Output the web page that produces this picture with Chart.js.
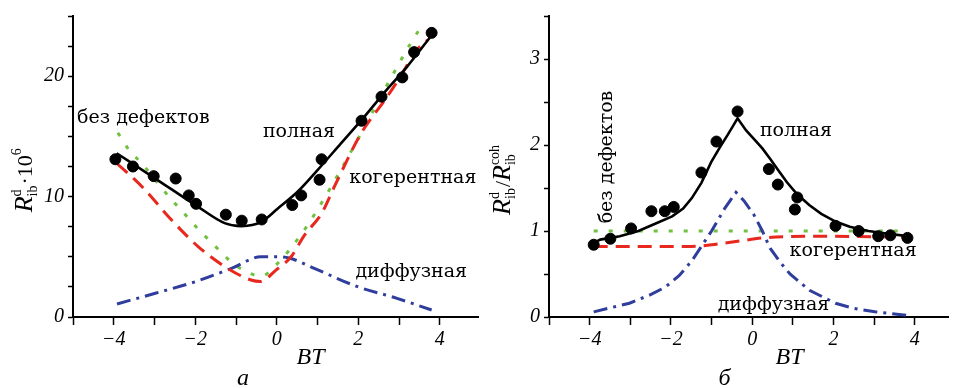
<!DOCTYPE html>
<html lang="ru">
<head>
<meta charset="UTF-8">
<title>R_ib(BT)</title>
<script src="https://cdn.jsdelivr.net/npm/chart.js"></script>
<style>
  body {margin:0; padding:0; background:#fff;}
  #wrap {position:relative; width:955px; height:388px;}
  #leftBox {position:absolute; left:0; top:0;}
  #rightBox {position:absolute; left:485px; top:0;}
</style>
</head>
<body>
<div id="wrap">
  <div id="leftBox"><canvas id="chartA" width="485" height="388"></canvas></div>
  <div id="rightBox"><canvas id="chartB" width="470" height="388"></canvas></div>
</div>
<script>
// ---- panel а : R_ib^d * 1e6 ----
var aDotsX = [-3.96,-3.53,-3.02,-2.48,-2.16,-1.98,-1.25,-0.86,-0.37,0.38,0.60,1.05,1.10,2.08,2.57,3.08,3.37,3.80];
var aDotsY = [13.1,12.5,11.7,11.5,10.1,9.4,8.5,8.0,8.1,9.3,10.1,11.4,13.1,16.3,18.3,19.9,22.0,23.6];
var aFullX = [-3.93,-2.98,-1.93,-1.28,-0.87,-0.38,0.02,0.51,1.0,1.57,2.14,2.63,3.2,3.8];
var aFullY = [13.6,11.5,9.15,7.8,7.55,7.9,9.0,10.4,12.2,14.4,16.6,18.6,20.8,23.4];
var aPureX = [-3.9,-3.63,-3.27,-2.94,-2.62,-2.27,-1.93,-1.54,-1.15,-0.75,-0.38,0.02,0.67,1.33,1.98,2.63,3.28,3.56];
var aPureY = [15.3,13.9,12.6,11.2,9.9,8.6,7.3,5.98,4.67,3.76,3.4,4.45,7.2,10.8,14.7,18.8,22.7,24.2];
var aCohX = [-3.92,-3.3,-2.58,-1.93,-1.28,-0.63,-0.4,-0.02,0.35,0.68,1.1,1.41,2.06,2.71,3.03,3.44,3.7];
var aCohY = [12.75,10.8,8.05,5.85,4.2,3.07,2.95,3.9,5.0,6.8,8.6,10.8,15.2,18.3,19.95,22.2,23.0];
var aDiffX = [-3.92,-2.98,-2.0,-1.11,-0.39,-0.06,0.3,0.92,1.98,2.95,3.8];
var aDiffY = [1.08,1.97,2.93,4.04,5.0,5.0,4.9,4.04,2.52,1.55,0.58];

// ---- panel б : R_ib^d / R_ib^coh ----
var bDotsX = [-3.9,-3.49,-2.98,-2.48,-2.15,-1.93,-1.25,-0.88,-0.36,0.41,0.63,1.11,1.05,2.05,2.62,3.1,3.4,3.82];
var bDotsY = [0.84,0.91,1.03,1.23,1.23,1.28,1.68,2.04,2.39,1.72,1.54,1.39,1.25,1.06,1.0,0.94,0.95,0.92];
var bFullX = [-3.9,-3.74,-3.26,-2.8,-2.46,-1.97,-1.7,-1.49,-1.25,-1.01,-0.8,-0.6,-0.36,-0.15,0.04,0.25,0.44,0.65,0.85,1.1,1.41,1.7,2.05,2.4,2.86,3.3,3.82];
var bFullY = [0.86,0.90,0.94,1.0,1.07,1.17,1.26,1.38,1.56,1.80,1.97,2.12,2.31,2.17,2.07,1.96,1.84,1.70,1.57,1.43,1.30,1.2,1.11,1.05,1.0,0.97,0.94];
var bPureX = [-3.9,3.62];
var bPureY = [1.0,1.0];
var bCohX = [-3.9,-1.5,-1.0,-0.36,0.28,1.4,3.8];
var bCohY = [0.82,0.82,0.84,0.88,0.92,0.94,0.93];
var bDiffX = [-3.9,-3.02,-2.5,-2.13,-1.8,-1.49,-1.25,-1.0,-0.68,-0.40,-0.2,0.04,0.25,0.44,0.7,0.93,1.41,2.05,2.5,3.02,3.82];
var bDiffY = [0.06,0.16,0.26,0.35,0.48,0.65,0.82,1.0,1.26,1.45,1.35,1.19,1.0,0.80,0.63,0.50,0.31,0.16,0.1,0.06,0.02];

var xTickVals = [-5,-4,-3,-2,-1,0,1,2,3,4];

var serif = "'Liberation Serif', serif";
var labelFont = "19px 'DejaVu Serif', serif";

function pts(xs, ys) {
    return xs.map(function(x, i) { return {x: x, y: ys[i]}; });
}

function fmt(v) {
    return v < 0 ? '\u2212' + (-v) : String(v);
}

function curveSets(d) {
    var mode = d.sharp ? 'default' : 'monotone';
    var tension = d.sharp ? 0 : 0;
    return [
        { data: pts(d.dotsX, d.dotsY), showLine: false, pointRadius: 5.5, pointBackgroundColor: '#000', pointBorderColor: '#000' },
        { data: pts(d.fullX, d.fullY), showLine: true, borderColor: '#000', borderWidth: 2.6, pointRadius: 0, cubicInterpolationMode: mode, tension: tension },
        { data: pts(d.cohX, d.cohY), showLine: true, borderColor: '#e8281e', borderWidth: 3, borderDash: [14, 8], pointRadius: 0, cubicInterpolationMode: 'monotone' },
        { data: pts(d.diffX, d.diffY), showLine: true, borderColor: '#2f3d9c', borderWidth: 3, borderDash: [14, 6, 3, 6], pointRadius: 0, cubicInterpolationMode: mode, tension: tension },
        { data: pts(d.pureX, d.pureY), showLine: true, borderColor: '#72c040', borderWidth: 3, borderDash: [4, 11], pointRadius: 0, cubicInterpolationMode: 'monotone' }
    ];
}

function makeScales(o) {
    return {
        x: {
            type: 'linear', min: -5, max: o.xMax,
            ticks: {
                stepSize: 1, autoSkip: false, maxRotation: 0, padding: 3, color: '#000',
                font: {family: serif, size: 20, style: 'italic'},
                callback: function(v) { return v % 2 === 0 ? fmt(v) : ''; }
            },
            afterBuildTicks: function(s) { s.ticks = xTickVals.map(function(v) { return {value: v}; }); },
            afterFit: function(s) { s.height = o.xHeight; },
            grid: { drawOnChartArea: false, drawTicks: true, tickLength: 8, tickColor: '#000', tickWidth: 1.5 },
            border: { color: '#000', width: 2 }
        },
        y: {
            type: 'linear', min: 0, max: o.yMax,
            ticks: {
                stepSize: o.yStep, autoSkip: false, padding: 4, color: '#000',
                font: {family: serif, size: 20, style: 'italic'},
                callback: function(v) { return Math.abs(v % o.yMajor) < 1e-9 ? fmt(v) : ''; }
            },
            afterFit: function(s) { s.width = o.yWidth; },
            grid: { drawOnChartArea: false, drawTicks: true, tickLength: 5, tickColor: '#000', tickWidth: 1.5 },
            border: { color: '#000', width: 2 }
        }
    };
}

// draws R with stacked sub/superscripts along the current (rotated) baseline
function drawRich(ctx, parts) {
    var widths = parts.map(function(p) {
        ctx.font = p.f;
        if (p.t) return ctx.measureText(p.t).width;
        return Math.max(p.sub ? ctx.measureText(p.sub).width : 0, p.sup ? ctx.measureText(p.sup).width : 0) + 1;
    });
    var total = widths.reduce(function(a, b) { return a + b; }, 0);
    var x = -total / 2, base = 7;
    ctx.textAlign = 'left';
    ctx.textBaseline = 'alphabetic';
    parts.forEach(function(p, i) {
        ctx.font = p.f;
        if (p.t) ctx.fillText(p.t, x, base);
        if (p.sub) ctx.fillText(p.sub, x, base + 5);
        if (p.sup) ctx.fillText(p.sup, x, base - 11);
        x += widths[i];
    });
}

function textPlugin(cfg) {
    return {
        id: 'panelText',
        afterDraw: function(chart) {
            var ctx = chart.ctx, xs = chart.scales.x, ys = chart.scales.y, area = chart.chartArea;
            ctx.save();
            ctx.fillStyle = '#000';
            ctx.textBaseline = 'middle';
            ctx.font = labelFont;
            cfg.labels.forEach(function(l) {
                var px = xs.getPixelForValue(l.x), py = ys.getPixelForValue(l.y);
                if (l.vertical) {
                    ctx.save();
                    ctx.translate(px, py);
                    ctx.rotate(-Math.PI / 2);
                    ctx.textAlign = 'center';
                    ctx.fillText(l.text, 0, 0);
                    ctx.restore();
                } else {
                    ctx.textAlign = 'left';
                    ctx.fillText(l.text, px, py);
                }
            });
            ctx.textAlign = 'center';
            ctx.font = 'italic 24px ' + serif;
            ctx.fillText('BT', xs.getPixelForValue(cfg.titleX), area.bottom + 41);
            ctx.fillText(cfg.caption, xs.getPixelForValue(cfg.captionX), area.bottom + 62);
            ctx.translate(area.left - cfg.yTitleOffset, ys.getPixelForValue(cfg.yTitleY));
            ctx.rotate(-Math.PI / 2);
            drawRich(ctx, cfg.yParts);
            ctx.restore();
        }
    };
}

var subF = '14px ' + serif;

new Chart(document.getElementById('chartA'), {
    type: 'scatter',
    data: { datasets: curveSets({dotsX: aDotsX, dotsY: aDotsY, fullX: aFullX, fullY: aFullY, cohX: aCohX, cohY: aCohY, diffX: aDiffX, diffY: aDiffY, pureX: aPureX, pureY: aPureY}) },
    options: {
        responsive: false, animation: false,
        layout: { padding: { top: 15, right: 3, left: 0, bottom: 0 } },
        plugins: { legend: { display: false }, tooltip: { enabled: false } },
        scales: makeScales({xMax: 4.95, yMax: 25, yStep: 2.5, yMajor: 10, yWidth: 73, xHeight: 71})
    },
    plugins: [textPlugin({
        labels: [
            {text: 'без дефектов', x: -4.9, y: 16.5},
            {text: 'полная', x: -0.34, y: 15.35},
            {text: 'когерентная', x: 1.78, y: 11.5},
            {text: 'диффузная', x: 1.93, y: 3.73}
        ],
        titleX: 0.83, caption: 'а', captionX: -0.83,
        yTitleOffset: 48, yTitleY: 11.4,
        yParts: [
            {t: 'R', f: 'italic 26px ' + serif},
            {sub: 'ib', sup: 'd', f: subF},
            {t: '\u00b710', f: '22px ' + serif},
            {sup: '6', f: subF}
        ]
    })]
});

new Chart(document.getElementById('chartB'), {
    type: 'scatter',
    data: { datasets: curveSets({sharp: true, dotsX: bDotsX, dotsY: bDotsY, fullX: bFullX, fullY: bFullY, cohX: bCohX, cohY: bCohY, diffX: bDiffX, diffY: bDiffY, pureX: bPureX, pureY: bPureY}) },
    options: {
        responsive: false, animation: false,
        layout: { padding: { top: 12, right: 0, left: 0, bottom: 0 } },
        plugins: { legend: { display: false }, tooltip: { enabled: false } },
        scales: makeScales({xMax: 4.83, yMax: 3.5, yStep: 0.5, yMajor: 1, yWidth: 64, xHeight: 71})
    },
    plugins: [textPlugin({
        labels: [
            {text: 'без дефектов', x: -3.57, y: 1.86, vertical: true},
            {text: 'полная', x: 0.19, y: 2.16},
            {text: 'когерентная', x: 0.92, y: 0.77},
            {text: 'диффузная', x: -0.85, y: 0.14}
        ],
        titleX: 0.92, caption: 'б', captionX: -0.68,
        yTitleOffset: 46, yTitleY: 1.6,
        yParts: [
            {t: 'R', f: 'italic 26px ' + serif},
            {sub: 'ib', sup: 'd', f: subF},
            {t: '/', f: '22px ' + serif},
            {t: 'R', f: 'italic 26px ' + serif},
            {sub: 'ib', sup: 'coh', f: subF}
        ]
    })]
});
</script>
</body>
</html>
